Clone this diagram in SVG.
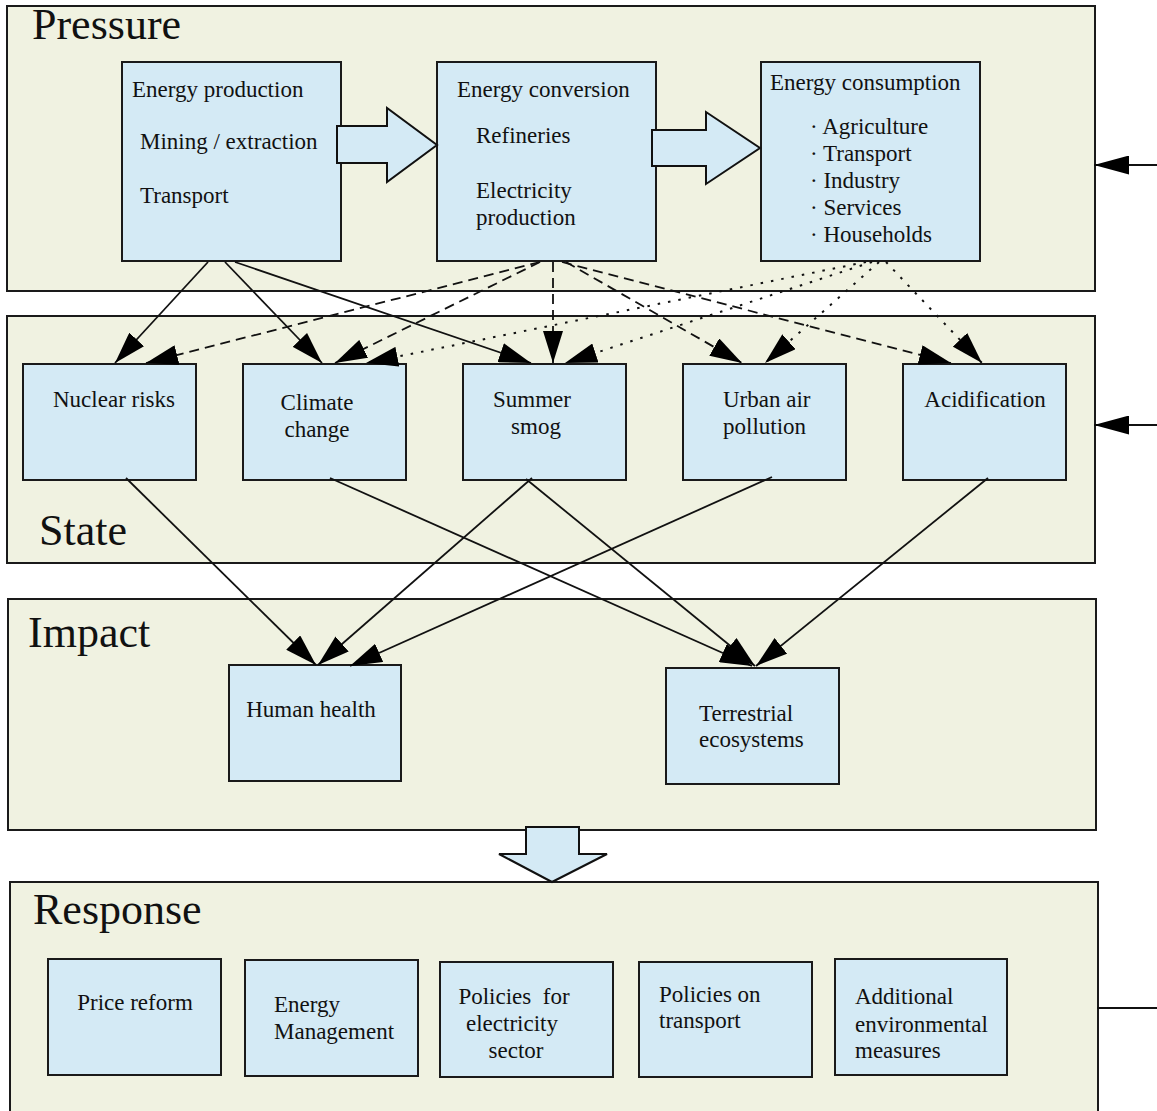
<svg xmlns="http://www.w3.org/2000/svg" width="1157" height="1111" viewBox="0 0 1157 1111">
<defs>
<style>
.panel{fill:#F0F2E1;stroke:#1a1a1a;stroke-width:2}
.box{fill:#D4EAF5;stroke:#1a1a1a;stroke-width:2}
.blk{fill:#D4EAF5;stroke:#111;stroke-width:2;stroke-linejoin:miter}
.t{font-family:"Liberation Serif","Times New Roman",serif;font-size:23px;fill:#111}
.m{text-anchor:middle}
.title{font-family:"Liberation Serif","Times New Roman",serif;font-size:44px;fill:#111}
.c{fill:none;stroke:#111;stroke-width:1.8;marker-end:url(#ah)}
.dash{stroke-dasharray:10 6}
.dot{stroke-dasharray:2.5 8;stroke-width:2}
.side{fill:none;stroke:#111;stroke-width:2}
</style>
<marker id="ah" viewBox="0 0 32 20" refX="32" refY="10" markerWidth="32" markerHeight="20" markerUnits="userSpaceOnUse" orient="auto">
<path d="M0,0 L32,10 L0,20 z" fill="#000"/>
</marker>
<marker id="sh" viewBox="0 0 35 19" refX="35" refY="9.5" markerWidth="35" markerHeight="19" markerUnits="userSpaceOnUse" orient="auto">
<path d="M0,0 L35,9.5 L0,19 z" fill="#000"/>
</marker>
</defs>

<g id="panel-pressure">
<rect class="panel" x="7" y="6" width="1088" height="285"/>
<text class="title" x="32" y="39">Pressure</text>
</g>
<g id="panel-state">
<rect class="panel" x="7" y="316" width="1088" height="247"/>
<text class="title" x="39" y="545">State</text>
</g>
<g id="panel-impact">
<rect class="panel" x="8" y="599" width="1088" height="231"/>
<text class="title" x="28" y="647">Impact</text>
</g>
<g id="panel-response">
<rect class="panel" x="10" y="882" width="1088" height="240"/>
<text class="title" x="33" y="924">Response</text>
</g>

<g id="energy-production">
<rect class="box" x="122" y="62" width="219" height="199"/>
<text class="t" x="132" y="97">Energy production</text>
<text class="t" x="140" y="149">Mining / extraction</text>
<text class="t" x="140" y="203">Transport</text>
</g>
<g id="energy-conversion">
<rect class="box" x="437" y="62" width="219" height="199"/>
<text class="t" x="457" y="97">Energy conversion</text>
<text class="t" x="476" y="143">Refineries</text>
<text class="t" x="476" y="198">Electricity</text>
<text class="t" x="476" y="225">production</text>
</g>
<g id="energy-consumption">
<rect class="box" x="761" y="62" width="219" height="199"/>
<text class="t" x="770" y="90">Energy consumption</text>
<text class="t" x="810" y="134">· Agriculture</text>
<text class="t" x="810" y="161">· Transport</text>
<text class="t" x="810" y="188">· Industry</text>
<text class="t" x="810" y="215">· Services</text>
<text class="t" x="810" y="242">· Households</text>
</g>

<g id="nuclear-risks">
<rect class="box" x="23" y="364" width="173" height="116"/>
<text class="t m" x="114" y="407">Nuclear risks</text>
</g>
<g id="climate-change">
<rect class="box" x="243" y="364" width="163" height="116"/>
<text class="t m" x="317" y="410">Climate</text>
<text class="t m" x="317" y="437">change</text>
</g>
<g id="summer-smog">
<rect class="box" x="463" y="364" width="163" height="116"/>
<text class="t m" x="532" y="407">Summer</text>
<text class="t m" x="536" y="434">smog</text>
</g>
<g id="urban-air-pollution">
<rect class="box" x="683" y="364" width="163" height="116"/>
<text class="t" x="723" y="407">Urban air</text>
<text class="t" x="723" y="434">pollution</text>
</g>
<g id="acidification">
<rect class="box" x="903" y="364" width="163" height="116"/>
<text class="t m" x="985" y="407">Acidification</text>
</g>

<g id="human-health">
<rect class="box" x="229" y="665" width="172" height="116"/>
<text class="t m" x="311" y="717">Human health</text>
</g>
<g id="terrestrial-ecosystems">
<rect class="box" x="666" y="668" width="173" height="116"/>
<text class="t" x="699" y="721">Terrestrial</text>
<text class="t" x="699" y="747">ecosystems</text>
</g>

<g id="price-reform">
<rect class="box" x="48" y="959" width="173" height="116"/>
<text class="t m" x="135" y="1010">Price reform</text>
</g>
<g id="energy-management">
<rect class="box" x="245" y="960" width="173" height="116"/>
<text class="t" x="274" y="1012">Energy</text>
<text class="t" x="274" y="1039">Management</text>
</g>
<g id="policies-electricity">
<rect class="box" x="440" y="962" width="173" height="115"/>
<text class="t m" x="514" y="1004" style="white-space:pre">Policies  for</text>
<text class="t m" x="512" y="1031">electricity</text>
<text class="t m" x="516" y="1058">sector</text>
</g>
<g id="policies-transport">
<rect class="box" x="639" y="962" width="173" height="115"/>
<text class="t" x="659" y="1002">Policies on</text>
<text class="t" x="659" y="1028">transport</text>
</g>
<g id="additional-measures">
<rect class="box" x="835" y="959" width="172" height="116"/>
<text class="t" x="855" y="1004">Additional</text>
<text class="t" x="855" y="1032">environmental</text>
<text class="t" x="855" y="1058">measures</text>
</g>

<g id="connectors">
<polygon class="blk" points="337,126 387,126 387,108 437,145 387,182 387,163 337,163"/>
<polygon class="blk" points="652,130 706,130 706,112 760,148 706,184 706,166 652,166"/>
<polygon class="blk" points="526,827 579,827 579,854 607,854 552,882 499,854 526,854"/>

<path class="c" d="M208,262 L115,363"/>
<path class="c" d="M225,262 L322,363"/>
<path class="c" d="M235,262 L531,363"/>

<path class="c dash" d="M540,262 L146,363"/>
<path class="c dash" d="M540,262 L335,363"/>
<path class="c dash" d="M553,262 L553,363"/>
<path class="c dash" d="M566,262 L742,363"/>
<path class="c dash" d="M562,262 L951,363"/>

<path class="c dot" d="M866,262 L366,363"/>
<path class="c dot" d="M872,262 L565,363"/>
<path class="c dot" d="M879,262 L765,363"/>
<path class="c dot" d="M886,262 L982,363"/>

<path class="c" d="M126,478 L316,665"/>
<path class="c" d="M532,478 L318,665"/>
<path class="c" d="M772,477 L350,666"/>
<path class="c" d="M330,478 L752,666"/>
<path class="c" d="M526,479 L755,666"/>
<path class="c" d="M988,478 L756,666"/>

<path class="side" d="M1157,165 L1094,165" marker-end="url(#sh)"/>
<path class="side" d="M1157,425 L1094,425" marker-end="url(#sh)"/>
<path class="side" d="M1097,1008 L1157,1008"/>
</g>
</svg>
